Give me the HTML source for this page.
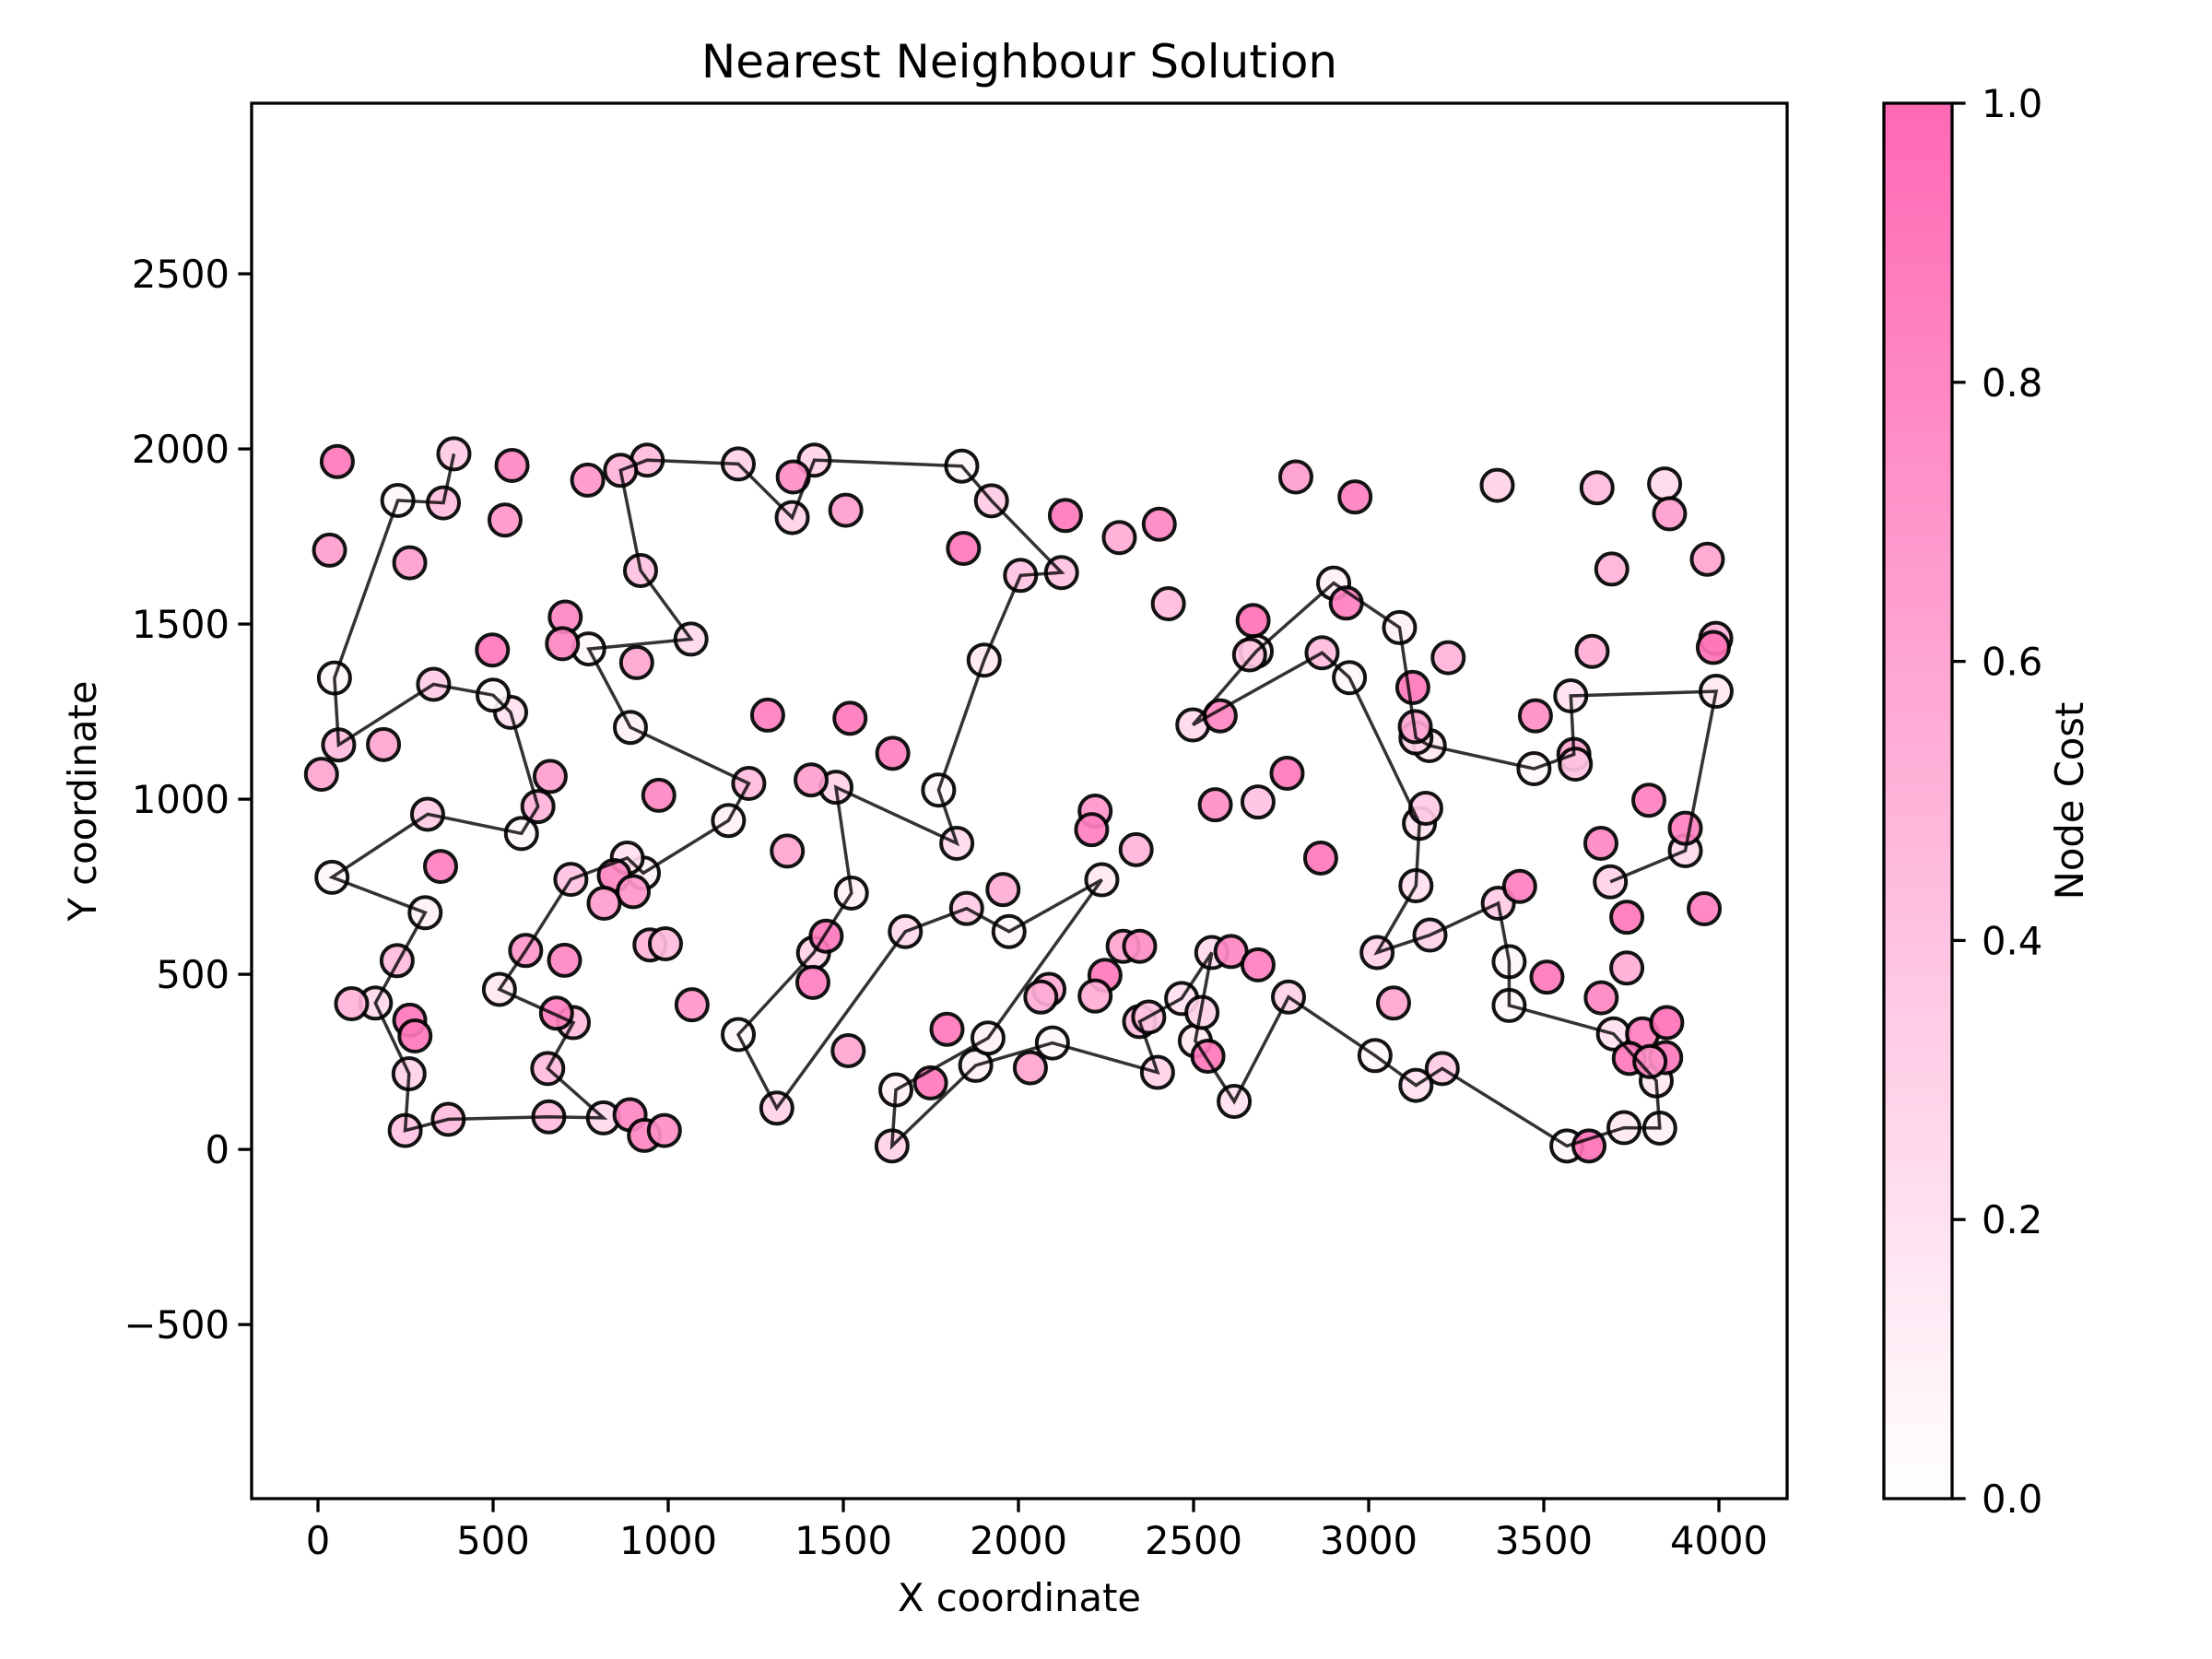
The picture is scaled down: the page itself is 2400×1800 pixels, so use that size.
<!DOCTYPE html>
<html><head><meta charset="utf-8"><style>
html,body{margin:0;padding:0;background:#fff;}
svg{display:block;font-family:"DejaVu Sans","Liberation Sans",sans-serif;}
</style></head><body>
<svg id="chart" width="2400" height="1800" viewBox="0 0 2400 1800" xmlns="http://www.w3.org/2000/svg">
<defs><linearGradient id="cbgrad" x1="0" y1="1" x2="0" y2="0"><stop offset="0" stop-color="#ffffff"/><stop offset="1" stop-color="#ff69b4"/></linearGradient></defs>
<text x="1106" y="84" font-size="50" text-anchor="middle">Nearest Neighbour Solution</text>
<g id="plot"></g>
<text x="1106" y="1748" font-size="41.7" text-anchor="middle">X coordinate</text>
<text transform="translate(104,869) rotate(-90)" font-size="41.7" text-anchor="middle">Y coordinate</text>
<g id="cbar"></g>
<text transform="translate(2260,869) rotate(-90)" font-size="41.7" text-anchor="middle">Node Cost</text>
</svg>
<script>
// Tour nodes in visiting order (first tourLength nodes), then unvisited nodes
const nodeX = [3690,3904,3992,3577,3586,3472,3173,3135,3088,2900,2679,2498,2867,2945,3145,3135,3024,3175,3370,3401,3401,3699,3821,3831,3729,3566,3210,3135,3018,2771,2616,2505,2552,2466,2346,2397,2097,1878,1639,1650,1913,2238,1973,1852,1677,1310,1200,1415,1523,1479,1824,1772,1902,2006,2123,1923,1838,1417,1354,1200,940,864,921,1065,773,892,1230,1172,929,883,722,593,518,729,656,815,659,372,249,260,164,306,40,313,581,628,550,500,330,59,47,228,358,388,
55,554,534,33,262,770,706,698,910,498,187,10,663,1284,973,
350,226,96,262,277,891,932,989,681,704,846,900,817,948,992,1068,
1357,1507,1843,2134,2288,2402,2428,2670,2660,2576,1519,1641,1408,2219,2209,2562,2684,
1340,1451,1413,1956,2336,1514,1796,1749,2034,2087,2064,2299,2346,2247,2219,2372,2524,2541,2607,2684,
2792,2961,3367,3652,3845,3859,3694,3967,2936,3227,3126,3133,3638,3991,3984,3476,3590,3800,2767,3904,
3163,2863,3431,3509,3663,3958,3737,3737,3664,3782,3851,3744,3848,3803,3629,3071];
const nodeY = [764,853,1308,1295,1128,1087,1153,1175,1490,1617,1422,1212,1418,1347,931,753,562,612,703,536,411,330,196,61,62,10,231,183,268,435,137,310,562,431,365,220,304,240,10,170,318,770,622,688,622,118,328,561,732,1034,874,1026,1397,1639,1647,1852,1951,1968,1804,1957,1968,1939,1653,1457,1429,1205,1045,939,789,832,771,568,457,362,231,90,93,86,54,216,418,676,777,957,902,979,1248,1297,1328,1155,1346,1853,1846,1986,
1964,1953,1797,1711,1675,1911,1520,1444,1390,1426,1156,1071,1065,1240,1011,
808,539,416,369,324,99,40,54,389,540,782,736,703,584,587,413,
1920,1825,1716,1810,1747,1785,1558,1510,1412,1238,1231,1131,1055,966,913,984,992,
852,609,477,742,856,282,343,190,233,457,435,580,580,497,438,378,391,266,565,527,
1920,1863,1896,1889,1900,1815,1657,1685,1560,1404,1319,1207,1422,1459,1433,1238,1100,997,1074,917,
974,832,751,492,874,687,663,518,433,330,362,260,262,251,10,418];
const nodeCost = [0.3,0.25,0.15,0.2,0.6,0.05,0.15,0.3,0.1,0.1,0.1,0.25,0.45,0.05,0.2,0.2,0.3,0.3,0.35,0.05,0.05,0.2,0.15,0.1,0.15,0.05,0.35,0.2,0.05,0.3,0.2,0.15,0.25,0.2,0.45,0.3,0.05,0.1,0.3,0.1,0.1,0.15,0.05,0.35,0.25,0.3,0.05,0.3,0.1,0.3,0.25,0.05,0.15,0.4,0.4,0.35,0.05,0.3,0.3,0.3,0.45,0.5,0.4,0.25,0.05,0.1,0.45,0.1,0.1,0.2,0.4,0.7,0.15,0.45,0.45,0.25,0.45,0.45,0.4,0.3,0.25,0.1,0.05,0.35,0.05,0.5,0.2,0.05,0.35,0.45,0.05,0.05,0.45,0.35,
0.9,0.8,0.7,0.65,0.65,0.7,0.8,0.8,0.6,0.9,0.6,0.6,0.65,0.85,0.8,
0.85,0.45,0.5,0.9,0.9,0.8,0.8,0.75,0.85,0.8,0.8,0.7,0.65,0.5,0.45,0.7,
0.75,0.65,0.9,0.9,0.55,0.8,0.45,0.95,0.4,0.8,0.9,0.85,0.65,0.7,0.85,0.75,0.4,
0.6,0.9,0.85,0.55,0.5,0.6,0.9,0.9,0.6,0.55,0.55,0.6,0.75,0.9,0.55,0.4,0.3,0.9,0.8,0.85,
0.65,0.85,0.3,0.45,0.25,0.65,0.5,0.6,0.85,0.5,0.9,0.6,0.55,0.5,0.95,0.75,0.4,0.85,0.9,0.85,
0.35,0.9,0.85,0.9,0.8,0.85,0.9,0.55,0.8,0.85,0.95,0.9,0.9,0.75,0.95,0.6];
const tourLength = 94;
const xTicks = [0,500,1000,1500,2000,2500,3000,3500,4000];
const yTicks = [-500,0,500,1000,1500,2000,2500];
const cbTicks = [0.0,0.2,0.4,0.6,0.8,1.0];

const NS = "http://www.w3.org/2000/svg";
const L = 273, R = 1939, T = 112, B = 1626;
const XMIN = -189.5, XMAX = 4194.7, YMIN = -997, YMAX = 2987;
function sx(v){ return L + (v - XMIN) / (XMAX - XMIN) * (R - L); }
function sy(v){ return B - (v - YMIN) / (YMAX - YMIN) * (B - T); }
function cy(v){ return B - v * (B - T); }
function color(c){ const g = Math.round(255 - 150*c), b = Math.round(255 - 75*c); return `rgb(255,${g},${b})`; }
function mk(tag, attrs, parent){ const e = document.createElementNS(NS, tag); for (const k in attrs) e.setAttribute(k, attrs[k]); parent.appendChild(e); return e; }

const plot = document.getElementById('plot');
// nodes
for (let i = 0; i < nodeX.length; i++) {
  const c = mk('circle', {cx: sx(nodeX[i]), cy: sy(nodeY[i]), r: 17, fill: color(nodeCost[i]), stroke: '#000', 'stroke-width': 4, opacity: 0.92}, plot);
  
  
}
// tour line
let d = '';
for (let i = 0; i < tourLength; i++) d += (i ? 'L' : 'M') + sx(nodeX[i]).toFixed(1) + ',' + sy(nodeY[i]).toFixed(1);
const path = mk('path', {d: d, fill: 'none', stroke: '#000', 'stroke-width': 3.5, 'stroke-opacity': 0.8, 'stroke-linejoin': 'miter'}, plot);


// frame
const frame = mk('rect', {x: L, y: T, width: R - L, height: B - T, fill: 'none', stroke: '#000', 'stroke-width': 3.3}, plot);


// x ticks
xTicks.forEach(v => {
  const x = sx(v);
  const t = mk('line', {x1: x, x2: x, y1: B, y2: B + 14.6, stroke: '#000', 'stroke-width': 3.3}, plot);
  
  
  const lb = mk('text', {x: x, y: B + 60, 'font-size': 41.7, 'text-anchor': 'middle'}, plot);
  lb.textContent = String(v);
  
  
});
// y ticks
yTicks.forEach(v => {
  const y = sy(v);
  const t = mk('line', {x1: L - 14.6, x2: L, y1: y, y2: y, stroke: '#000', 'stroke-width': 3.3}, plot);
  
  
  const lb = mk('text', {x: L - 24, y: y + 15, 'font-size': 41.7, 'text-anchor': 'end'}, plot);
  lb.textContent = v < 0 ? '\u2212' + Math.abs(v) : String(v);
  
  
});
// colorbar
const cb = document.getElementById('cbar');
const CL = 2044, CR = 2118;
const bar = mk('rect', {x: CL, y: T, width: CR - CL, height: B - T, fill: 'url(#cbgrad)', stroke: '#000', 'stroke-width': 3.3}, cb);


cbTicks.forEach(v => {
  const y = cy(v);
  const t = mk('line', {x1: CR, x2: CR + 14.6, y1: y, y2: y, stroke: '#000', 'stroke-width': 3.3}, cb);
  
  
  const lb = mk('text', {x: CR + 32, y: y + 15, 'font-size': 41.7}, cb);
  lb.textContent = v.toFixed(1);
  
  
});
</script>
</body></html>
